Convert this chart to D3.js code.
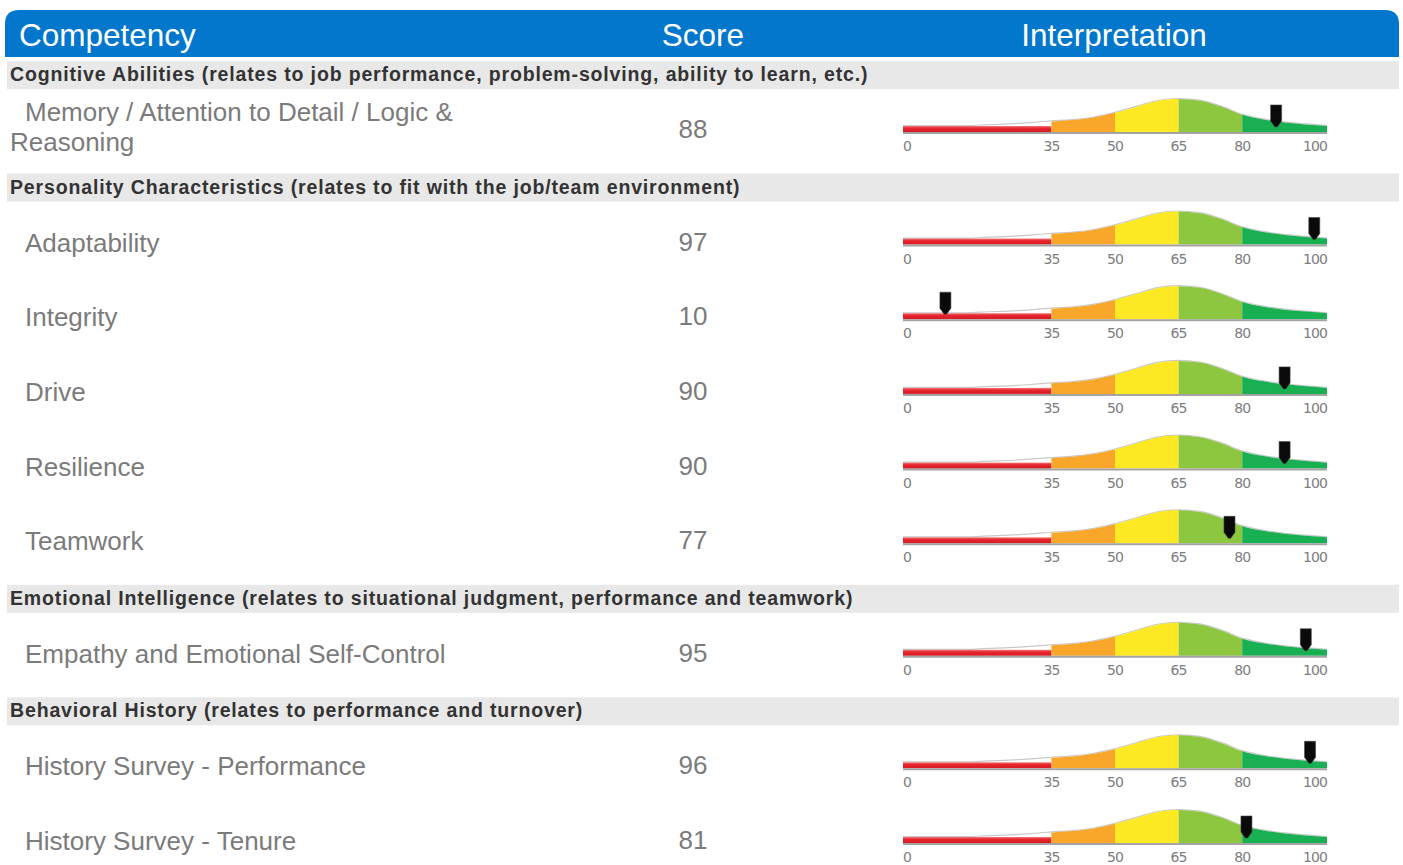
<!DOCTYPE html>
<html>
<head>
<meta charset="utf-8">
<title>Assessment results</title>
<script src="https://d3js.org/d3.v7.min.js"></script>
<style>
body { margin: 0; background: #fff; }
</style>
</head>
<body>
<div id="chart"></div>
<script>
var columnTitles = ["Competency", "Score", "Interpretation"];
var sections = [
    "Cognitive Abilities (relates to job performance, problem-solving, ability to learn, etc.)",
    "Personality Characteristics (relates to fit with the job/team environment)",
    "Emotional Intelligence (relates to situational judgment, performance and teamwork)",
    "Behavioral History (relates to performance and turnover)"
];
var competencies = [
    "Memory / Attention to Detail / Logic & Reasoning",
    "Adaptability",
    "Integrity",
    "Drive",
    "Resilience",
    "Teamwork",
    "Empathy and Emotional Self-Control",
    "History Survey - Performance",
    "History Survey - Tenure"
];
var competencySection = [0, 1, 1, 1, 1, 1, 2, 3, 3];
var scores = [88, 97, 10, 90, 90, 77, 95, 96, 81];

// interpretation scale
var bandEdges = [0, 35, 50, 65, 80, 100];
var bandColors = ["#e3202a", "#f9a72b", "#fce823", "#8dc63f", "#19af53"];
var tickValues = [0, 35, 50, 65, 80, 100];
// bell shape behind the scale (percent of peak)
var curveScores = [0, 5, 10, 15, 20, 25, 30, 35, 40, 45, 50, 55, 60, 65, 70, 75, 80, 85, 90, 95, 100];
var curveDensity = [18, 18, 18, 18, 21, 23, 27, 32, 36, 44, 58, 76, 94, 100, 95, 77, 52, 38, 29, 23, 18];

var width = 1403;
var height = 865;
var mainFont = "'Liberation Sans', Arial, sans-serif";
var headerBlue = "#0277cc";
var labelColor = "#7b7b7b";

window.onload = function() {
    var svg = d3.select("#chart").append("svg")
        .attr("width", width)
        .attr("height", height);

    var defs = svg.append("defs");
    var grad = defs.append("linearGradient")
        .attr("id", "redGloss")
        .attr("x1", 0).attr("y1", 0).attr("x2", 0).attr("y2", 1);
    grad.append("stop").attr("offset", "0%").attr("stop-color", "#f27a7e");
    grad.append("stop").attr("offset", "35%").attr("stop-color", "#e8262f");
    grad.append("stop").attr("offset", "100%").attr("stop-color", "#d61a22");

    drawHeader(svg);

    var x = d3.scaleLinear().domain([0, 100]).range([903, 1327]);
    var h = d3.scaleLinear().domain([0, 100]).range([0, 33]);

    // work out vertical layout
    var top = 61;
    sections.forEach(function(title, si) {
        drawSection(svg, title, top);
        var gy = top + 71;
        var lastY = gy;
        competencies.forEach(function(name, i) {
            if (competencySection[i] !== si) return;
            drawRow(svg, defs, i, gy, x, h);
            lastY = gy;
            gy += 74.7;
        });
        top = lastY + 41.5;
    });
};

function drawHeader(svg) {
    svg.append("path")
        .attr("d", "M5,57 V24 Q5,10 19,10 H1385 Q1399,10 1399,24 V57 Z")
        .attr("fill", headerBlue);

    var pos = [[19, "start"], [703, "middle"], [1114, "middle"]];
    svg.selectAll("text.colTitle")
        .data(columnTitles)
        .enter().append("text")
        .attr("class", "colTitle")
        .attr("x", function(d, i) { return pos[i][0]; })
        .attr("y", 46)
        .attr("text-anchor", function(d, i) { return pos[i][1]; })
        .attr("font-family", mainFont)
        .attr("font-size", "31.5px")
        .attr("fill", "#fff")
        .text(function(d) { return d; });
}

function drawSection(svg, title, top) {
    svg.append("rect")
        .attr("x", 7)
        .attr("y", top)
        .attr("width", 1392)
        .attr("height", 28)
        .attr("fill", "#e8e8e8");
    svg.append("text")
        .attr("x", 10)
        .attr("y", top + 20)
        .attr("font-family", mainFont)
        .attr("font-weight", "bold")
        .attr("font-size", "19.5px")
        .attr("letter-spacing", "0.85px")
        .attr("fill", "#333")
        .text(title);
}

function wrapWords(text, maxWidth, svg) {
    var probe = svg.append("text")
        .attr("font-family", mainFont)
        .attr("font-size", "26px");
    var words = text.split(" ");
    var lines = [];
    var line = [];
    words.forEach(function(w) {
        line.push(w);
        probe.text(line.join(" "));
        if (probe.node().getComputedTextLength() > maxWidth && line.length > 1) {
            line.pop();
            lines.push(line.join(" "));
            line = [w];
        }
    });
    lines.push(line.join(" "));
    probe.remove();
    return lines;
}

function drawRow(svg, defs, i, gy, x, h) {
    // competency name (long names wrap back to the left edge)
    var lines = wrapWords(competencies[i], 460, svg);
    var firstY = gy + 7 - (lines.length - 1) * 18;
    lines.forEach(function(line, k) {
        svg.append("text")
            .attr("x", k === 0 ? 25 : 10)
            .attr("y", firstY + k * 29.5)
            .attr("font-family", mainFont)
            .attr("font-size", "26px")
            .attr("fill", labelColor)
            .text(line);
    });

    // score
    svg.append("text")
        .attr("x", 693)
        .attr("y", gy + 6)
        .attr("text-anchor", "middle")
        .attr("font-family", mainFont)
        .attr("font-size", "26px")
        .attr("fill", labelColor)
        .text(scores[i]);

    // interpretation gauge
    var g = svg.append("g");
    var pts = curveScores.map(function(s, k) { return [s, curveDensity[k]]; });

    var area = d3.area()
        .x(function(d) { return x(d[0]); })
        .y0(gy)
        .y1(function(d) { return gy - h(d[1]); })
        .curve(d3.curveMonotoneX);
    var topLine = d3.line()
        .x(function(d) { return x(d[0]); })
        .y(function(d) { return gy - h(d[1]) - 0.5; })
        .curve(d3.curveMonotoneX);

    g.append("path")
        .attr("d", topLine(pts))
        .attr("fill", "none")
        .attr("stroke", "#c9c9c9")
        .attr("stroke-width", 1.2);

    for (var b = 0; b < bandColors.length; b++) {
        var lo = x(bandEdges[b]);
        var hi = x(bandEdges[b + 1]);
        if (b === 0) {
            g.append("rect")
                .attr("x", lo)
                .attr("y", gy - 6)
                .attr("width", hi - lo)
                .attr("height", 6)
                .attr("fill", "url(#redGloss)");
            continue;
        }
        var clipId = "clip" + i + "_" + b;
        defs.append("clipPath").attr("id", clipId)
            .append("rect")
            .attr("x", lo)
            .attr("y", gy - 40)
            .attr("width", hi - lo)
            .attr("height", 41);
        g.append("path")
            .attr("d", area(pts))
            .attr("fill", bandColors[b])
            .attr("clip-path", "url(#" + clipId + ")");
    }

    // base line
    g.append("line")
        .attr("x1", x(0))
        .attr("x2", x(100))
        .attr("y1", gy + 1)
        .attr("y2", gy + 1)
        .attr("stroke", "#a3a3a3")
        .attr("stroke-width", 2);

    // tick labels
    g.selectAll("text.tick")
        .data(tickValues)
        .enter().append("text")
        .attr("class", "tick")
        .attr("x", function(d) { return x(d); })
        .attr("y", gy + 19)
        .attr("text-anchor", function(d, k) {
            if (k === 0) return "start";
            if (k === tickValues.length - 1) return "end";
            return "middle";
        })
        .attr("font-family", "'DejaVu Sans', sans-serif")
        .attr("font-size", "14px")
        .attr("letter-spacing", "-0.9px")
        .attr("fill", "#7d7d7d")
        .text(function(d) { return d; });

    // score marker
    var mx = x(scores[i]);
    var markerTop = gy - 27;
    g.append("path")
        .attr("d", "M" + (mx - 5.5) + "," + markerTop +
            " H" + (mx + 5.5) +
            " V" + (gy - 11) +
            " L" + (mx + 1.2) + "," + (gy - 5) +
            " H" + (mx - 1.2) +
            " L" + (mx - 5.5) + "," + (gy - 11) + " Z")
        .attr("fill", "#0a0a0a")
        .attr("stroke", "#444")
        .attr("stroke-width", 0.6);
}
</script>
</body>
</html>
